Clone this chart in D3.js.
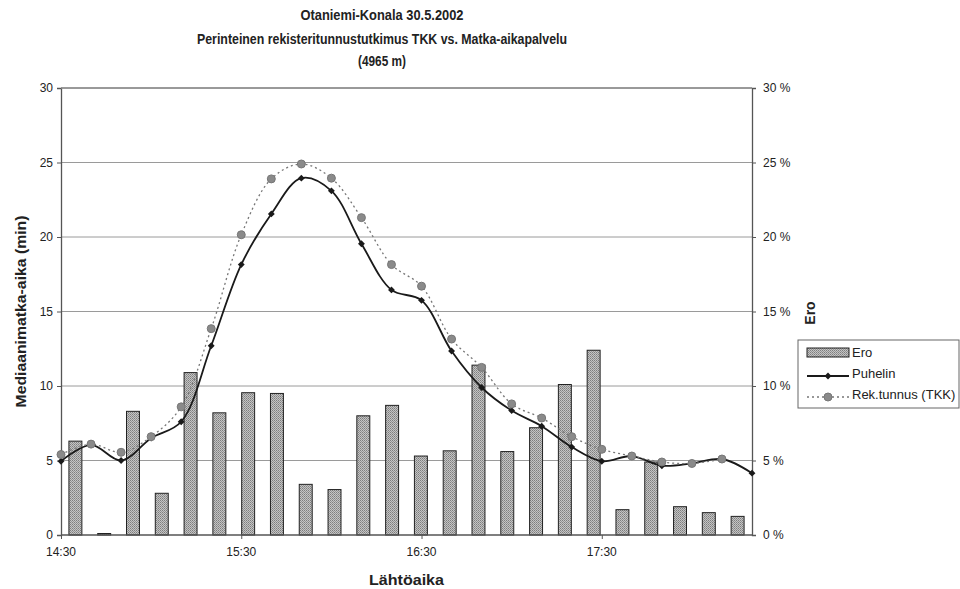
<!DOCTYPE html>
<html>
<head>
<meta charset="utf-8">
<script src="https://cdn.jsdelivr.net/npm/d3@7"></script>
<style>
  html, body { margin: 0; padding: 0; background: #fff; }
  svg { display: block; }
  text { font-family: "Liberation Sans", Arial, sans-serif; fill: #222; }
</style>
</head>
<body>
<svg id="canvas"></svg>
<script>
// lähtöajat 10 min välein
const times = ["14:30","14:40","14:50","15:00","15:10","15:20","15:30","15:40","15:50","16:00","16:10","16:20",
               "16:30","16:40","16:50","17:00","17:10","17:20","17:30","17:40","17:50","18:00","18:10","18:20"];
// Ero (%)
const ero = [6.3, 0.1, 8.3, 2.8, 10.9, 8.2, 9.55, 9.5, 3.4, 3.05, 8.0, 8.7,
             5.3, 5.65, 11.4, 5.6, 7.2, 10.1, 12.4, 1.7, 4.9, 1.9, 1.5, 1.25];
// Puhelin (min)
const puhelin = [4.95, 6.05, 5.0, 6.5, 7.6, 12.7, 18.15, 21.55, 23.95, 23.1, 19.55, 16.45,
                 15.75, 12.35, 9.9, 8.35, 7.3, 5.9, 4.95, 5.3, 4.65, 4.8, 5.1, 4.15];
// Rek.tunnus (TKK) (min)
const rekTunnus = [5.4, 6.1, 5.55, 6.6, 8.6, 13.85, 20.15, 23.9, 24.9, 23.95, 21.3, 18.15,
                   16.7, 13.15, 11.25, 8.8, 7.85, 6.6, 5.75, 5.3, 4.9, 4.8, 5.1, null];
const xTickLabels = ["14:30","15:30","16:30","17:30"];
const leftTicks = [0, 5, 10, 15, 20, 25, 30];
const rightTicks = [0, 5, 10, 15, 20, 25, 30];

const width = 960;
const height = 589;
const margin = {top: 88, right: 208, bottom: 54, left: 61};
const innerWidth = width - margin.left - margin.right;
const innerHeight = height - margin.top - margin.bottom;

const svg = d3.select("#canvas").attr("width", width).attr("height", height).attr("viewBox", `0 0 ${width} ${height}`);

// pistekuvio pylväisiin
const defs = svg.append("defs");
const pat = defs.append("pattern").attr("id", "dots").attr("width", 2).attr("height", 2).attr("patternUnits", "userSpaceOnUse");
pat.append("rect").attr("width", 2).attr("height", 2).attr("fill", "#c4c4c4");
pat.append("rect").attr("width", 1).attr("height", 1).attr("fill", "#7e7e7e");
pat.append("rect").attr("x", 1).attr("y", 1).attr("width", 1).attr("height", 1).attr("fill", "#949494");

const mainGroup = svg.append("g").attr("transform", `translate(${margin.left}, ${margin.top})`);

// scales in page coordinates
const xPoint = d3.scalePoint().domain(times).range([margin.left, margin.left + innerWidth]);
const xBand = d3.scaleBand().domain(times).range([margin.left, margin.left + innerWidth]).paddingInner(0.55).paddingOuter(0.275);
const yScale = d3.scaleLinear().domain([0, 30]).range([margin.top + innerHeight, margin.top]);
const yRight = d3.scaleLinear().domain([0, 30]).range([margin.top + innerHeight, margin.top]);

const plot = svg.append("g");

// gridlines
plot.append("g").selectAll("line")
    .data(leftTicks.filter(d => d > 0))
    .join("line")
    .attr("x1", margin.left).attr("x2", margin.left + innerWidth)
    .attr("y1", d => yScale(d)).attr("y2", d => yScale(d))
    .attr("stroke", "#9a9a9a").attr("stroke-width", 1);

// axes (tick marks from d3, labels drawn separately)
const yAxis = d3.axisLeft(yScale).tickValues(leftTicks).tickSize(4).tickFormat("");
const yAxisR = d3.axisRight(yRight).tickValues(rightTicks).tickSize(4).tickFormat("");
const xAxis = d3.axisBottom(xPoint).tickValues(xTickLabels).tickSize(4).tickFormat("");

const styleAxis = g => {
    g.selectAll(".domain").attr("stroke", "#555").attr("stroke-width", 1.3);
    g.selectAll(".tick line").attr("stroke", "#555");
    g.selectAll(".tick text").remove();
};

plot.append("g").attr("transform", `translate(${margin.left},0)`).call(yAxis).call(styleAxis);
plot.append("g").attr("transform", `translate(${margin.left + innerWidth},0)`).call(yAxisR).call(styleAxis);

// bars
plot.append("g").selectAll("rect")
    .data(ero)
    .join("rect")
    .attr("x", (d, i) => xBand(times[i]))
    .attr("y", d => yRight(d))
    .attr("width", xBand.bandwidth())
    .attr("height", d => yRight(0) - yRight(d))
    .attr("fill", "url(#dots)")
    .attr("stroke", "#222")
    .attr("stroke-width", 1);

plot.append("g").attr("transform", `translate(0,${margin.top + innerHeight})`).call(xAxis).call(styleAxis)
    .call(g => g.select(".domain").attr("d", `M${margin.left},0H${margin.left + innerWidth}`));

// top border
plot.append("line").attr("x1", margin.left).attr("x2", margin.left + innerWidth)
    .attr("y1", margin.top).attr("y2", margin.top)
    .attr("stroke", "#888").attr("stroke-width", 1.5);

// lines
const line = d3.line()
    .defined(d => d != null)
    .x((d, i) => xPoint(times[i]))
    .y(d => yScale(d))
    .curve(d3.curveCatmullRom.alpha(0.5));

plot.append("path")
    .datum(puhelin)
    .attr("d", line)
    .attr("fill", "none")
    .attr("stroke", "#1a1a1a")
    .attr("stroke-width", 1.8);

plot.append("g").selectAll("path")
    .data(puhelin)
    .join("path")
    .attr("transform", (d, i) => `translate(${xPoint(times[i])},${yScale(d)})`)
    .attr("d", d3.symbol(d3.symbolDiamond2, 30))
    .attr("fill", "#1a1a1a");

plot.append("path")
    .datum(rekTunnus)
    .attr("d", line)
    .attr("fill", "none")
    .attr("stroke", "#777")
    .attr("stroke-width", 1.3)
    .attr("stroke-dasharray", "2,3");

plot.append("g").selectAll("circle")
    .data(rekTunnus.map((d, i) => ({v: d, t: times[i]})).filter(d => d.v != null))
    .join("circle")
    .attr("cx", d => xPoint(d.t))
    .attr("cy", d => yScale(d.v))
    .attr("r", 4)
    .attr("fill", "#8a8a8a")
    .attr("stroke", "#777");

// tick labels
const labels = svg.append("g");
labels.selectAll("text.yl")
    .data(leftTicks)
    .join("text")
    .attr("class", "yl")
    .attr("x", margin.left - 8)
    .attr("y", d => yScale(d) + 4)
    .attr("text-anchor", "end")
    .style("font-size", "12px")
    .text(d => d);

labels.selectAll("text.yr")
    .data(rightTicks)
    .join("text")
    .attr("class", "yr")
    .attr("x", margin.left + innerWidth + 11)
    .attr("y", d => yRight(d) + 4)
    .style("font-size", "12px")
    .text(d => d + " %");

labels.selectAll("text.xl")
    .data(xTickLabels)
    .join("text")
    .attr("class", "xl")
    .attr("x", d => xPoint(d))
    .attr("y", margin.top + innerHeight + 21)
    .attr("text-anchor", "middle")
    .style("font-size", "12px")
    .text(d => d);

// titles
const titles = [
    {text: "Otaniemi-Konala 30.5.2002", y: 20, w: 163},
    {text: "Perinteinen rekisteritunnustutkimus TKK vs. Matka-aikapalvelu", y: 44, w: 370},
    {text: "(4965 m)", y: 66, w: 48}
];
svg.append("g").selectAll("text")
    .data(titles)
    .join("text")
    .attr("x", 382)
    .attr("y", d => d.y)
    .attr("text-anchor", "middle")
    .attr("textLength", d => d.w)
    .attr("lengthAdjust", "spacingAndGlyphs")
    .style("font-size", "14px")
    .style("font-weight", "bold")
    .text(d => d.text);

svg.append("text")
    .attr("x", margin.left + innerWidth / 2)
    .attr("y", 585)
    .attr("text-anchor", "middle")
    .attr("textLength", 75)
    .attr("lengthAdjust", "spacingAndGlyphs")
    .style("font-size", "14px")
    .style("font-weight", "bold")
    .text("Lähtöaika");

svg.append("text")
    .attr("transform", `translate(26, ${margin.top + innerHeight / 2}) rotate(-90)`)
    .attr("text-anchor", "middle")
    .attr("textLength", 192)
    .attr("lengthAdjust", "spacingAndGlyphs")
    .style("font-size", "14px")
    .style("font-weight", "bold")
    .text("Mediaanimatka-aika (min)");

svg.append("text")
    .attr("transform", `translate(815, 313) rotate(-90)`)
    .attr("text-anchor", "middle")
    .style("font-size", "14px")
    .style("font-weight", "bold")
    .text("Ero");

// legend
const legend = svg.append("g").attr("transform", "translate(798, 340)");
legend.append("rect").attr("width", 161).attr("height", 68)
    .attr("fill", "#fff").attr("stroke", "#666").attr("stroke-width", 1);
legend.append("rect").attr("x", 9).attr("y", 8).attr("width", 42).attr("height", 9)
    .attr("fill", "url(#dots)").attr("stroke", "#222");
legend.append("line").attr("x1", 9).attr("x2", 51).attr("y1", 36).attr("y2", 36)
    .attr("stroke", "#1a1a1a").attr("stroke-width", 1.8);
legend.append("path").attr("transform", "translate(30,36)").attr("d", d3.symbol(d3.symbolDiamond2, 30)).attr("fill", "#1a1a1a");
legend.append("line").attr("x1", 9).attr("x2", 51).attr("y1", 57).attr("y2", 57)
    .attr("stroke", "#777").attr("stroke-width", 1.3).attr("stroke-dasharray", "2,3");
legend.append("circle").attr("cx", 30).attr("cy", 57).attr("r", 4).attr("fill", "#8a8a8a").attr("stroke", "#777");
legend.selectAll("text.lbl")
    .data(["Ero", "Puhelin", "Rek.tunnus (TKK)"])
    .join("text")
    .attr("class", "lbl")
    .attr("x", 54)
    .attr("y", (d, i) => 17 + i * 21)
    .style("font-size", "13px")
    .text(d => d);
</script>
</body>
</html>
